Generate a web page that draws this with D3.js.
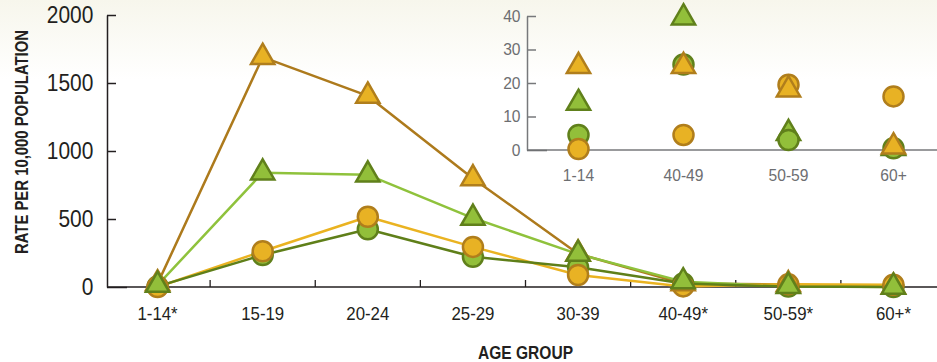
<!DOCTYPE html>
<html><head><meta charset="utf-8">
<script src="https://cdn.jsdelivr.net/npm/d3@7"></script>
<style>html,body{margin:0;padding:0;background:#fff;} svg{display:block;}</style>
</head><body>
<svg id="chart" width="937" height="362"></svg>
<script>
// ---- data ----
const categories = ["1-14*","15-19","20-24","25-29","30-39","40-49*","50-59*","60+*"];
const yTicks = [0, 500, 1000, 1500, 2000];
const orangeTriangle = [25, 1690, 1405, 798, 245, 25, 18, 1];
const greenTriangle  = [14, 840, 825, 507, 242, 39.5, 5, 0.5];
const orangeCircle   = [0.3, 263, 517, 295, 88, 4.5, 19.5, 16];
const greenCircle    = [4.5, 235, 425, 222, 145, 25.5, 3, 0.5];
const insetCategories = ["1-14", "40-49", "50-59", "60+"];
const insetSource = ["1-14*", "40-49*", "50-59*", "60+*"];
const insetTicks = [0, 10, 20, 30, 40];
const yTitle = "RATE PER 10,000 POPULATION";
const xTitle = "AGE GROUP";

// ---- styles ----
const ORANGE = "#e8b224", ORANGE_DK = "#b07e1c", GREEN = "#92bf3a", GREEN_DK = "#60801b";
const series = {
  gc: {values: greenCircle,   shape: "circle",   fill: GREEN,  stroke: GREEN_DK,  line: "#5f7f19"},
  oc: {values: orangeCircle,  shape: "circle",   fill: ORANGE, stroke: ORANGE_DK, line: "#eab321"},
  ot: {values: orangeTriangle,shape: "triangle", fill: ORANGE, stroke: ORANGE_DK, line: "#ad7a1c"},
  gt: {values: greenTriangle, shape: "triangle", fill: GREEN,  stroke: GREEN_DK,  line: "#8fc23c"}
};
const lineOrder = ["ot", "gt", "oc", "gc"];
const mainMarkerOrder = ["gc", "oc", "ot", "gt"];
const insetMarkerOrder = ["gt", "gc", "oc", "ot"];

const TEXT = "#231f20", GREY = "#6d6e71", FONT = "'Liberation Sans', Arial, sans-serif";
const svg = d3.select("#chart");

// background
const defs = svg.append("defs");
const grad = defs.append("linearGradient").attr("id", "bg").attr("x1", 0).attr("y1", 0).attr("x2", 0).attr("y2", 1);
grad.append("stop").attr("offset", "0%").attr("stop-color", "#f7f6ec");
grad.append("stop").attr("offset", "22%").attr("stop-color", "#ffffff");
svg.append("rect").attr("width", 937).attr("height", 362).attr("fill", "url(#bg)");

// ---- main scales ----
const x = d3.scaleBand().domain(categories).range([105, 946]);
const y = d3.scaleLinear().domain([0, 2000]).range([287, 15]);
const cx = c => x(c) + x.bandwidth() / 2;

// ---- inset scales ----
const xi = d3.scaleBand().domain(insetCategories).range([526, 946]);
const yi = d3.scaleLinear().domain([0, 40]).range([150, 16]);
const cxi = c => xi(c) + xi.bandwidth() / 2;

// ---- inset axes ----
const gyi = svg.append("g").attr("transform", "translate(527,0)")
  .call(d3.axisLeft(yi).tickValues(insetTicks).tickSize(-9).tickSizeOuter(0).tickPadding(7));
gyi.select(".domain").attr("stroke", "#77787b").attr("stroke-width", 1.5);
gyi.selectAll(".tick line").attr("stroke", "#77787b").attr("stroke-width", 1.5);
gyi.selectAll(".tick").filter(d => d === 0).select("line").attr("x2", 20).attr("stroke", "#5a5b5e");
gyi.selectAll(".tick text").attr("fill", GREY).attr("font-family", FONT).attr("font-size", 17)
  .attr("transform", "scale(0.92,1)");
svg.append("line").attr("x1", 527).attr("x2", 937).attr("y1", yi(0)).attr("y2", yi(0))
  .attr("stroke", "#77787b").attr("stroke-width", 1.5);
const gxi = svg.append("g").attr("transform", `translate(0,${yi(0)})`)
  .call(d3.axisBottom(xi).tickSize(0).tickPadding(19));
gxi.select(".domain").remove();
gxi.selectAll(".tick text").attr("fill", GREY).attr("font-family", FONT).attr("font-size", 17)
  .attr("transform", "scale(0.92,1)");

// ---- main axes ----
const gy = svg.append("g").attr("transform", "translate(107,0)")
  .call(d3.axisLeft(y).tickValues(yTicks).tickFormat(d3.format("d")).tickSize(-9).tickSizeOuter(0).tickPadding(15));
gy.select(".domain").attr("stroke", TEXT).attr("stroke-width", 1.5);
gy.selectAll(".tick line").attr("stroke", TEXT).attr("stroke-width", 1.5);
gy.selectAll(".tick").filter(d => d === 0).select("line").attr("x2", 20);
gy.selectAll(".tick text").attr("fill", TEXT).attr("font-family", FONT).attr("font-size", 23)
  .attr("transform", "scale(0.91,1)");

svg.append("line").attr("x1", 107).attr("x2", 937).attr("y1", y(0)).attr("y2", y(0))
  .attr("stroke", TEXT).attr("stroke-width", 1.5);
svg.append("g").selectAll("line").data(categories.slice(1)).join("line")
  .attr("x1", d => x(d)).attr("x2", d => x(d)).attr("y1", y(0)).attr("y2", y(0) - 7)
  .attr("stroke", TEXT).attr("stroke-width", 1.3);
const gx = svg.append("g").attr("transform", `translate(0,${y(0)})`)
  .call(d3.axisBottom(x).tickSize(0).tickPadding(20));
gx.select(".domain").remove();
gx.selectAll(".tick text").attr("fill", TEXT).attr("font-family", FONT).attr("font-size", 18.5)
  .attr("transform", "scale(0.91,1)");

// titles
svg.append("text").attr("transform", "translate(27.5,142) rotate(-90) scale(1,1.3)")
  .attr("text-anchor", "middle").attr("font-family", FONT).attr("font-weight", "bold")
  .attr("font-size", 14).attr("fill", TEXT)
  .attr("textLength", 224).attr("lengthAdjust", "spacingAndGlyphs").text(yTitle);
svg.append("text").attr("x", 525.5).attr("y", 359)
  .attr("text-anchor", "middle").attr("font-family", FONT).attr("font-weight", "bold")
  .attr("font-size", 18.5).attr("fill", TEXT)
  .attr("textLength", 95).attr("lengthAdjust", "spacingAndGlyphs").text(xTitle);

// ---- main lines ----
const line = d3.line().x(d => cx(d.c)).y(d => y(d.v));
const gLines = svg.append("g");
lineOrder.forEach(k => {
  const s = series[k];
  gLines.append("path").datum(categories.map((c, i) => ({c, v: s.values[i]})))
    .attr("d", line).attr("fill", "none").attr("stroke", s.line).attr("stroke-width", 2.5)
    .attr("stroke-linejoin", "round");
});

const tri = d3.symbol(d3.symbolTriangle, 235);
function drawMarkers(g, s, pts) {
  if (s.shape === "circle") {
    g.selectAll(null).data(pts).join("circle")
      .attr("cx", d => d.x).attr("cy", d => d.y).attr("r", 10)
      .attr("fill", s.fill).attr("stroke", s.stroke).attr("stroke-width", 2.5);
  } else {
    g.selectAll(null).data(pts).join("path")
      .attr("d", tri).attr("transform", d => `translate(${d.x},${d.y})`)
      .attr("fill", s.fill).attr("stroke", s.stroke).attr("stroke-width", 2.5);
  }
}

// inset markers
const gInset = svg.append("g");
insetMarkerOrder.forEach(k => {
  const s = series[k];
  const pts = insetCategories.map((c, j) => {
    const v = s.values[categories.indexOf(insetSource[j])];
    return {x: cxi(c), y: yi(v)};
  });
  drawMarkers(gInset.append("g"), s, pts);
});

// main markers
const gMain = svg.append("g");
mainMarkerOrder.forEach(k => {
  const s = series[k];
  const pts = categories.map((c, i) => ({x: cx(c), y: y(s.values[i])}));
  drawMarkers(gMain.append("g"), s, pts);
});
</script>
</body></html>
